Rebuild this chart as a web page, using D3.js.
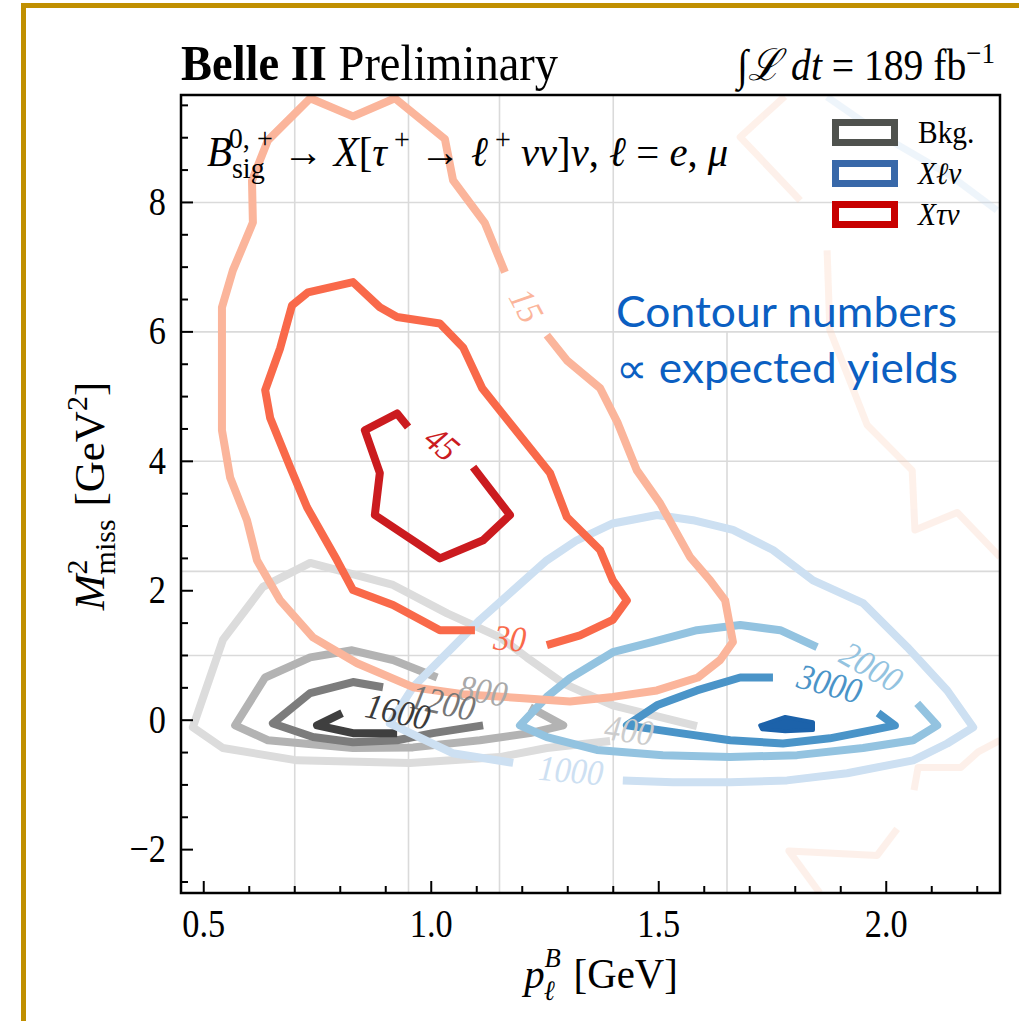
<!DOCTYPE html>
<html>
<head>
<meta charset="utf-8">
<script src="https://cdn.jsdelivr.net/npm/d3@7"></script>
<style>
  html, body { margin: 0; padding: 0; background: #fff; }
  svg { display: block; }
</style>
</head>
<body>
<svg id="chart" width="1019" height="1021"></svg>
<script>
// ---------------- axis ticks and grid ----------------
const xMajorTicks = [0.5, 1.0, 1.5, 2.0];
const xTickLabels = ["0.5", "1.0", "1.5", "2.0"];
const yMajorTicks = [-2, 0, 2, 4, 6, 8];
const yTickLabels = ["\u22122", "0", "2", "4", "6", "8"];
const gridXFull = [0.70, 0.95, 1.15, 1.40];
const gridXLower = [1.65];
const gridY = [8, 6, 4, 2.3, 1.0];

// ---------------- Bkg. contours: [p_l^B (GeV), M2_miss (GeV^2)] ----------------
const bkgLevels = [400, 800, 1200, 1600];
const bkg400 = [[1.393,-0.32],[1.254,-0.43],[1.151,-0.57],[0.953,-0.66],[0.705,-0.62],[0.542,-0.43],[0.476,-0.11],
  [0.542,1.24],[0.630,2.06],[0.734,2.43],[0.916,2.09],[1.035,1.65],[1.151,1.28],[1.210,0.97],[1.290,0.57],[1.399,0.23],[1.584,-0.09]];
const bkg800 = [[1.217,0.20],[1.290,-0.08],[1.217,-0.20],[1.107,-0.31],[0.960,-0.42],[0.828,-0.43],[0.641,-0.31],
  [0.569,-0.08],[0.635,0.66],[0.734,0.97],[0.826,1.08],[0.916,0.93],[1.013,0.66]];
const bkg1200 = [[0.894,0.51],[0.828,0.59],[0.734,0.42],[0.652,-0.05],[0.740,-0.26],[0.828,-0.34],[0.925,-0.31],[1.004,-0.20],[1.114,-0.08]];
const bkg1600 = [[0.804,0.11],[0.749,-0.08],[0.828,-0.20],[0.925,-0.20]];
// label anchors for Bkg. levels
const bkgLabelAt = [[1.435,-0.15],[1.114,0.46],[1.026,0.28],[0.927,0.14]];

// ---------------- X l nu contours ----------------
const xlnuLevels = [1000, 2000, 3000];
const xlnu1000 = [[1.421,-0.93],[1.531,-0.96],[1.657,-0.96],[1.782,-0.93],[1.914,-0.82],[2.059,-0.62],[2.134,-0.36],
  [2.191,-0.11],[2.134,0.46],[2.046,1.13],[1.949,1.81],[1.839,2.16],[1.751,2.63],[1.663,2.94],[1.575,3.09],[1.496,3.17],
  [1.399,3.04],[1.320,2.78],[1.254,2.47],[1.107,1.55],[0.960,0.51],[0.909,-0.05],[1.047,-0.51],[1.180,-0.66]];
const xlnu2000 = [[1.848,1.13],[1.767,1.39],[1.679,1.47],[1.584,1.39],[1.487,1.21],[1.399,1.05],[1.305,0.65],[1.254,0.36],
  [1.195,-0.08],[1.254,-0.26],[1.364,-0.46],[1.509,-0.54],[1.657,-0.57],[1.804,-0.54],[1.949,-0.43],[2.059,-0.31],[2.112,-0.08],[2.068,0.26]];
const xlnu3000 = [[1.751,0.66],[1.679,0.66],[1.584,0.46],[1.496,0.23],[1.430,-0.08],[1.547,-0.20],[1.657,-0.31],[1.773,-0.36],
  [1.876,-0.28],[1.971,-0.15],[2.019,-0.08],[1.982,0.11]];
const xlnuPeak = [[1.723,-0.08],[1.778,0.05],[1.839,-0.03],[1.839,-0.15],[1.778,-0.17],[1.727,-0.14]];
const xlnuLabelAt = [[1.307,-0.77],[1.968,0.83],[1.876,0.57]];

// ---------------- X tau nu contours ----------------
const xtnuLevels = [15, 30, 45];
const xtnu15 = [[1.254,5.95],[1.298,5.56],[1.371,5.13],[1.410,4.59],[1.452,3.86],[1.503,3.35],[1.569,2.52],[1.613,2.16],
  [1.646,1.85],[1.663,1.21],[1.635,0.93],[1.586,0.66],[1.496,0.46],[1.399,0.36],[1.305,0.29],[1.202,0.34],[1.070,0.40],
  [0.960,0.51],[0.837,0.88],[0.740,1.28],[0.668,1.85],[0.617,2.47],[0.595,3.09],[0.558,3.75],[0.540,4.48],[0.540,6.38],
  [0.564,6.95],[0.608,7.69],[0.606,8.34],[0.641,8.96],[0.734,9.61],[0.828,9.33],[0.920,9.61],[1.030,8.98],[1.048,8.34],
  [1.118,7.68],[1.162,6.92]];
const xtnu30 = [[1.254,1.16],[1.327,1.31],[1.399,1.55],[1.430,1.85],[1.399,2.16],[1.371,2.63],[1.298,3.14],[1.261,3.82],
  [1.180,4.53],[1.112,5.13],[1.070,5.76],[1.019,6.13],[0.925,6.23],[0.887,6.38],[0.828,6.77],[0.729,6.61],[0.694,6.41],
  [0.668,5.75],[0.635,5.10],[0.646,4.67],[0.690,3.91],[0.727,3.29],[0.793,2.47],[0.828,2.01],[0.916,1.78],[1.019,1.39],[1.096,1.39]];
const xtnu45 = [[0.949,4.53],[0.925,4.74],[0.854,4.48],[0.887,3.82],[0.876,3.17],[1.019,2.50],[1.114,2.78],[1.173,3.17],[1.092,3.91]];
const xtnuLabelAt = [[1.210,6.41],[1.173,1.27],[1.024,4.28]];

// faint underlying tau-contour layer on the right
const faintTau = [
  [[1.777,9.64],[1.679,9.01],[1.811,8.03]],
  [[1.870,7.26],[1.876,6.03],[1.958,4.56],[2.057,3.86],[2.063,2.94],[2.156,3.21],[2.250,2.52]],
  [[2.250,-0.31],[2.202,-0.49],[2.164,-0.73],[2.070,-0.73],[2.061,-1.08]],
  [[2.024,-1.68],[1.980,-2.09],[1.786,-2.02],[1.854,-2.67]]
];
const faintLnu = [[[1.870,9.63],[2.008,8.96],[2.140,8.42],[2.243,7.88]]];

const legendNames = ["Bkg.", "X\u2113\u03bd", "X\u03c4\u03bd"];

// ---------------- styles ----------------
const bkgColors  = ["#dcdcdc", "#b3b3b3", "#7c7c7c", "#3f3f3f"];
const bkgLabelColors = ["#cccccc", "#a9a9a9", "#767676", "#3a3a3a"];
const xlnuColors = ["#cde0f2", "#93c3e0", "#4a94c8"];
const xlnuPeakColor = "#1c62aa";
const xtnuColors = ["#fbb59b", "#f9694a", "#cb1b1f"];
const legendColors = ["#4f524e", "#3868a9", "#c80000"];
const bkgLabelAngle = [8, 10, 12, 12];
const xlnuLabelAngle = [5, 30, 15];
const xtnuLabelAngle = [62, 5, 40];
const serif = "'Liberation Serif', 'Times New Roman', serif";
const SX = 0.9; // horizontal condensing of serif glyphs

// ---------------- scales ----------------
const svg = d3.select("#chart");
const x = d3.scaleLinear().domain([0.45, 2.25]).range([181, 1000]);
const y = d3.scaleLinear().domain([-2.67, 9.66]).range([893, 95]);
const line = d3.line().x(d => x(d[0])).y(d => y(d[1]));

// rich text helper: segments with italic / bold / size / baseline shift
function rich(sel, segs) {
  let cur = 0;
  segs.forEach(s => {
    const sh = s.sh || 0;
    const t = sel.append("tspan").text(s.t).attr("dy", sh - cur);
    cur = sh;
    if (s.dx) t.attr("dx", s.dx);
    if (s.it) t.attr("font-style", "italic");
    if (s.b) t.attr("font-weight", "bold");
    if (s.fs) t.attr("font-size", s.fs);
  });
  return sel;
}
function label(px, py, size, anchor, sx = SX, rot = 0) {
  return svg.append("text")
    .attr("transform", `translate(${px},${py}) rotate(${rot}) scale(${sx},1)`)
    .attr("font-family", serif).attr("font-size", size)
    .attr("text-anchor", anchor).attr("fill", "#000");
}

// page frame
svg.append("rect").attr("x", 21).attr("y", 3).attr("width", 1000).attr("height", 5).attr("fill", "#c08f00");
svg.append("rect").attr("x", 21).attr("y", 3).attr("width", 5).attr("height", 1020).attr("fill", "#c08f00");

// clip region for plot area
svg.append("clipPath").attr("id", "plotclip").append("rect")
  .attr("x", 181).attr("y", 95).attr("width", 819).attr("height", 798);

const plot = svg.append("g").attr("clip-path", "url(#plotclip)");

// grid
const grid = plot.append("g").attr("stroke", "#dadada").attr("stroke-width", 1.6);
gridXFull.forEach(v => grid.append("line").attr("x1", x(v)).attr("x2", x(v)).attr("y1", y.range()[1]).attr("y2", y.range()[0]));
gridXLower.forEach(v => grid.append("line").attr("x1", x(v)).attr("x2", x(v)).attr("y1", y(6)).attr("y2", y.range()[0]));
gridY.forEach(v => grid.append("line").attr("x1", x.range()[0]).attr("x2", x.range()[1]).attr("y1", y(v)).attr("y2", y(v)));

// faint underlying layer
const faint = plot.append("g").attr("fill", "none").attr("stroke-width", 7).attr("opacity", 0.28)
  .attr("stroke-linejoin", "round");
faintTau.forEach(p => faint.append("path").attr("d", line(p)).attr("stroke", "#fbcdb5"));
faintLnu.forEach(p => faint.append("path").attr("d", line(p)).attr("stroke", "#c6dcf2"));

// contour layers
function drawSet(paths, colors) {
  const g = plot.append("g").attr("fill", "none").attr("stroke-width", 8)
    .attr("stroke-linejoin", "round").attr("stroke-linecap", "butt");
  paths.forEach((p, i) => g.append("path").attr("d", line(p)).attr("stroke", colors[i]));
  return g;
}
drawSet([bkg400, bkg800, bkg1200, bkg1600], bkgColors);
const gl = drawSet([xlnu1000, xlnu2000, xlnu3000], xlnuColors);
gl.append("path").attr("d", line(xlnuPeak) + "Z").attr("fill", xlnuPeakColor).attr("stroke", xlnuPeakColor).attr("stroke-width", 4);
drawSet([xtnu15, xtnu30, xtnu45], xtnuColors);

// inline contour labels
function drawLabels(levels, at, colors, angles) {
  levels.forEach((lv, i) => {
    svg.append("text")
      .attr("transform", `translate(${x(at[i][0])},${y(at[i][1])}) rotate(${angles[i]}) scale(${SX},1)`)
      .attr("font-family", serif).attr("font-size", 36).attr("font-style", "italic")
      .attr("text-anchor", "middle").attr("dominant-baseline", "central")
      .attr("fill", colors[i]).text(lv);
  });
}
drawLabels(bkgLevels, bkgLabelAt, bkgLabelColors, bkgLabelAngle);
drawLabels(xlnuLevels, xlnuLabelAt, xlnuColors, xlnuLabelAngle);
drawLabels(xtnuLevels, xtnuLabelAt, xtnuColors, xtnuLabelAngle);

// spines
svg.append("rect").attr("x", 181).attr("y", 95).attr("width", 819).attr("height", 798)
  .attr("fill", "none").attr("stroke", "#000").attr("stroke-width", 2.5);

// ticks (pointing inward)
const ticks = svg.append("g").attr("stroke", "#000").attr("stroke-width", 2);
d3.range(0.5, 2.2501, 0.1).forEach(v => {
  const major = xMajorTicks.some(t => Math.abs(t - v) < 1e-6);
  ticks.append("line").attr("x1", x(v)).attr("x2", x(v)).attr("y1", 893).attr("y2", 893 - (major ? 12 : 7));
});
d3.range(-2.5, 9.6, 0.5).forEach(v => {
  const major = yMajorTicks.some(t => Math.abs(t - v) < 1e-6);
  ticks.append("line").attr("x1", 181).attr("x2", 181 + (major ? 12 : 7)).attr("y1", y(v)).attr("y2", y(v));
});
xMajorTicks.forEach((v, i) => label(x(v), 937, 39, "middle", 0.88).text(xTickLabels[i]));
yMajorTicks.forEach((v, i) => label(166, y(v) + 12.5, 39, "end", 0.88).text(yTickLabels[i]));

// axis titles
rich(label(601, 988, 43, "middle", 0.95), [
  {t: "p", it: 1}, {t: "B", it: 1, fs: 28, sh: -21}, {t: "\u2113", it: 1, fs: 28, sh: 12, dx: -18}, {t: " [GeV]", dx: 9}
]);
rich(svg.append("text").attr("transform", "translate(104,496) rotate(-90)")
  .attr("font-family", serif).attr("font-size", 43).attr("text-anchor", "middle"), [
  {t: "M", it: 1}, {t: "2", fs: 30, sh: -17}, {t: "miss", fs: 30, sh: 11, dx: -15}, {t: " [GeV", dx: 2}, {t: "2", fs: 30, sh: -17}, {t: "]"}
]);

// header
rich(label(181, 80, 50, "start", 0.93), [{t: "Belle II", b: 1}, {t: " Preliminary"}]);
rich(label(995, 80, 44, "end", 0.9), [
  {t: "\u222b", it: 1}, {t: "\u2112", it: 1}, {t: " "}, {t: "dt", it: 1}, {t: " = 189 fb"}, {t: "\u22121", fs: 30, sh: -17}
]);

// decay annotation
rich(label(207, 166, 42, "start", 0.97), [
  {t: "B", it: 1}, {t: "sig", fs: 29, sh: 12}, {t: "0, +", fs: 29, sh: -18, dx: -37},
  {t: " \u2192 "}, {t: "X", it: 1}, {t: "["}, {t: "\u03c4", it: 1}, {t: " +", fs: 29, sh: -17},
  {t: " \u2192 "}, {t: "\u2113", it: 1}, {t: " +", fs: 29, sh: -17}, {t: " \u03bd\u03bd", it: 1}, {t: "]"},
  {t: "\u03bd", it: 1}, {t: ", "}, {t: "\u2113", it: 1}, {t: " = "}, {t: "e", it: 1}, {t: ", "}, {t: "\u03bc", it: 1}
]);

// legend
legendNames.forEach((name, i) => {
  svg.append("rect").attr("x", 835.5).attr("y", 122.5 + i * 41).attr("width", 59).attr("height", 20)
    .attr("fill", "#fff").attr("stroke", legendColors[i]).attr("stroke-width", 7);
  const t = label(918, 143 + i * 41, 31, "start", 0.95);
  if (i === 0) t.text(name); else t.attr("font-style", "italic").text(name);
});

// note
const note = svg.append("g").attr("font-family", "Lato, 'Open Sans', sans-serif").attr("font-size", 42).attr("fill", "#0b5fc2");
note.append("text").attr("x", 616).attr("y", 327).attr("textLength", 341).attr("lengthAdjust", "spacingAndGlyphs").text("Contour numbers");
note.append("text").attr("x", 616).attr("y", 383).attr("textLength", 342).attr("lengthAdjust", "spacingAndGlyphs").text("\u221d expected yields");
</script>
</body>
</html>
